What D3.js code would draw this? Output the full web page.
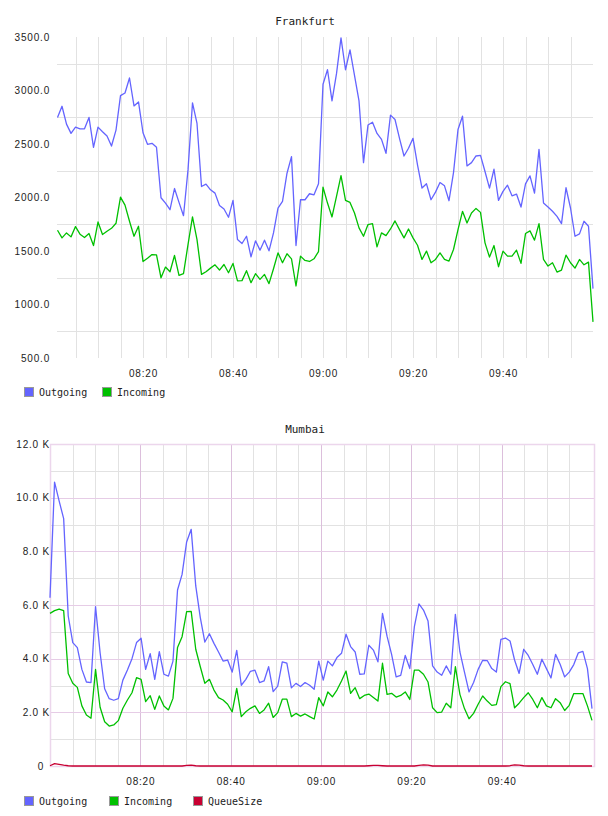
<!DOCTYPE html>
<html>
<head>
<meta charset="utf-8">
<script src="https://cdn.jsdelivr.net/npm/d3@7"></script>
<style>
body { margin: 0; background: #fff; }
</style>
</head>
<body>
<svg id="chart" width="608" height="816"></svg>
<script>
// values, one point per minute
const frankfurtOutgoing = [
    2748, 2853, 2686, 2599, 2658, 2642, 2642, 2748, 2469, 2658,
    2615, 2574, 2481, 2630, 2952, 2977, 3117, 2856, 2893, 2605,
    2497, 2506, 2469, 1998, 1948, 1886, 2084, 1954, 1830, 2258,
    2884, 2692, 2103, 2125, 2072, 2041, 1926, 1892, 1815, 1973,
    1607, 1570, 1638, 1446, 1595, 1508, 1601, 1502, 1669, 1901,
    1963, 2227, 2382, 1551, 1979, 1979, 2035, 2025, 2128, 3058,
    3194, 2903, 3157, 3492, 3194, 3380, 3142, 2903, 2326, 2677,
    2704, 2599, 2543, 2413, 2770, 2729, 2553, 2388, 2460, 2553,
    2305, 2088, 2128, 1979, 2050, 2140, 2109, 1970, 2233, 2636,
    2760, 2295, 2326, 2388, 2394, 2243, 2088, 2264, 1973, 2057,
    2115, 2016, 2032, 1911, 2128, 2202, 2041, 2450, 1948, 1911,
    1871, 1824, 1756, 2091, 1902, 1638, 1660, 1778, 1731, 1148
];
const frankfurtIncoming = [
    1694, 1623, 1669, 1632, 1728, 1657, 1626, 1663, 1551, 1771,
    1654, 1685, 1712, 1759, 2004, 1929, 1778, 1638, 1731, 1402,
    1433, 1467, 1464, 1250, 1350, 1306, 1458, 1272, 1288, 1560,
    1818, 1607, 1281, 1306, 1340, 1371, 1322, 1374, 1297, 1384,
    1220, 1223, 1316, 1204, 1288, 1235, 1281, 1195, 1334, 1483,
    1390, 1474, 1427, 1173, 1452, 1412, 1402, 1427, 1495, 2097,
    1948, 1818, 2010, 2205, 1973, 1954, 1855, 1716, 1638, 1747,
    1756, 1539, 1669, 1644, 1706, 1781, 1700, 1623, 1706, 1623,
    1554, 1421, 1499, 1390, 1421, 1483, 1421, 1406, 1514, 1700,
    1871, 1762, 1855, 1898, 1861, 1576, 1443, 1551, 1353, 1499,
    1452, 1452, 1508, 1384, 1663, 1688, 1601, 1756, 1421, 1359,
    1390, 1303, 1322, 1461, 1390, 1340, 1421, 1371, 1396, 838
];
const mumbaiOutgoing = [
    6270, 10580, 9880, 9220, 5590, 4600, 4410, 3600, 3130, 3110,
    5940, 4220, 2880, 2510, 2450, 2510, 3200, 3580, 4000, 4600,
    4760, 3600, 4190, 3230, 4260, 3420, 3350, 3910, 6560, 7140,
    8350, 8820, 6710, 5530, 4620, 4930, 4570, 4250, 3910, 3950,
    3500, 4310, 3010, 3230, 3530, 3570, 3110, 3170, 3700, 2770,
    2980, 3880, 3830, 2910, 3080, 2960, 3110, 3010, 2860, 3910,
    3200, 3910, 3730, 4040, 4200, 4910, 4450, 4250, 3420, 3430,
    4500, 4320, 3880, 5690, 4840, 4160, 3320, 3380, 4120, 3630,
    5190, 6040, 5810, 5400, 3730, 3500, 3380, 3730, 3420, 5650,
    4250, 3500, 2760, 3110, 3600, 3940, 3930, 3630, 3500, 4720,
    4770, 4660, 3950, 3450, 4350, 4120, 3780, 3420, 3980, 3630,
    3280, 4160, 3790, 3320, 3500, 3780, 4220, 4270, 3630, 2140
];
const mumbaiIncoming = [
    5690, 5790, 5850, 5790, 3450, 3080, 2930, 2240, 1900, 1780,
    3600, 2190, 1650, 1490, 1530, 1690, 2150, 2460, 2730, 3290,
    3230, 2400, 2620, 2110, 2610, 2240, 2090, 2520, 4420, 4820,
    5750, 5760, 4350, 3700, 3080, 3230, 2830, 2550, 2460, 2300,
    2020, 2890, 1840, 2020, 2150, 2240, 1960, 2090, 2340, 1810,
    1990, 2490, 2490, 1840, 1960, 1860, 1940, 1840, 1750, 2550,
    2240, 2760, 2580, 2830, 3170, 3540, 2710, 2920, 2510, 2630,
    2680, 2550, 2420, 3830, 2670, 2710, 2570, 2630, 2760, 2480,
    3570, 3570, 3420, 3130, 2170, 1990, 2010, 2340, 2170, 3700,
    2670, 2140, 1760, 1960, 2300, 2610, 2420, 2260, 2290, 2960,
    3140, 3070, 2170, 2340, 2550, 2730, 2480, 2170, 2550, 2240,
    2170, 2510, 2360, 2070, 2260, 2700, 2700, 2700, 2240, 1700
];
const mumbaiQueue = [
    10, 90, 60, 30, 10, 0, 0, 0, 0, 0,
    0, 0, 0, 0, 0, 0, 0, 0, 0, 0,
    0, 0, 0, 0, 0, 0, 0, 0, 0, 0,
    20, 30, 10, 0, 0, 0, 0, 0, 0, 0,
    0, 0, 0, 0, 0, 0, 0, 0, 0, 0,
    0, 0, 0, 0, 0, 0, 0, 0, 0, 0,
    0, 0, 0, 0, 0, 0, 0, 0, 0, 0,
    10, 20, 20, 10, 0, 0, 0, 0, 0, 0,
    0, 20, 40, 30, 0, 0, 0, 0, 0, 0,
    0, 0, 0, 0, 0, 0, 0, 0, 0, 0,
    0, 10, 40, 30, 10, 0, 0, 0, 0, 0,
    0, 0, 0, 0, 0, 0, 0, 0, 0, 0
];

const frankfurtYTicks = [500, 1000, 1500, 2000, 2500, 3000, 3500];
const frankfurtYGrid = [750, 1250, 1750, 2250, 2750, 3250];
const mumbaiYTicks = [0, 2000, 4000, 6000, 8000, 10000, 12000];
const mumbaiYMajor = [2000, 4000, 6000, 8000, 10000];
const mumbaiYMinor = [1000, 3000, 5000, 7000, 9000, 11000];
const timeTickLabels = ["08:20", "08:40", "09:00", "09:20", "09:40"];

const colors = {
    Outgoing: "#6464ff",
    Incoming: "#00c000",
    QueueSize: "#c80032"
};

const parseTime = d3.timeParse("%H:%M");
const tStart = parseTime("08:00");
const tEnd = parseTime("10:00");
const fmtTime = d3.timeFormat("%H:%M");

// frankfurt samples every minute from 08:01, mumbai spread over 08:00-10:00
const frankfurtTimes = d3.range(frankfurtOutgoing.length)
    .map(i => d3.timeMinute.offset(parseTime("08:01"), i));
const mumbaiTimes = d3.range(mumbaiOutgoing.length)
    .map(i => new Date(+tStart + (tEnd - tStart) * i / (mumbaiOutgoing.length - 1)));

const svg = d3.select("#chart");
const tickFont = "'Liberation Sans', Arial, sans-serif";
const monoFont = "'DejaVu Sans Mono', monospace";

const drawChart = function (cfg) {
    const x = d3.scaleTime().domain([tStart, tEnd]).range(cfg.xRange);
    const y = d3.scaleLinear().domain(cfg.yDomain).range([cfg.bottom, cfg.top]);
    const g = svg.append("g");
    const h = cfg.bottom - cfg.top;
    const w = cfg.right - cfg.left;

    const fiveMin = d3.timeMinute.every(5).range(tStart, tEnd)
        .filter(t => x(t) > cfg.left + 1 && x(t) < cfg.right - 1);
    const minorT = fiveMin.filter(t => !cfg.majorX || t.getMinutes() % 20 !== 0);
    const majorT = cfg.majorX ? fiveMin.filter(t => t.getMinutes() % 20 === 0) : [];

    const gridX = function (vals, color) {
        g.append("g")
            .attr("transform", "translate(0," + cfg.bottom + ")")
            .call(d3.axisBottom(x).tickValues(vals).tickSize(-h).tickFormat(""))
            .call(a => a.select(".domain").remove())
            .selectAll("line").attr("stroke", color).attr("shape-rendering", "crispEdges");
    };
    const gridY = function (vals, color) {
        g.append("g")
            .attr("transform", "translate(" + cfg.left + ",0)")
            .call(d3.axisLeft(y).tickValues(vals).tickSize(-w).tickFormat(""))
            .call(a => a.select(".domain").remove())
            .selectAll("line").attr("stroke", color).attr("shape-rendering", "crispEdges");
    };

    gridX(minorT, "#e2e2e2");
    gridY(cfg.minorY, "#e2e2e2");
    if (cfg.majorX) {
        gridX(majorT, "#dcbfdc");
        gridY(cfg.majorY, "#e6cce6");
        g.append("rect")
            .attr("x", cfg.left + 0.5).attr("y", cfg.top + 0.5)
            .attr("width", w).attr("height", h)
            .attr("fill", "none").attr("stroke", "#ecd6ec").attr("stroke-width", 1.5);
    }

    // tick labels
    const yAxis = g.append("g")
        .attr("transform", "translate(" + cfg.left + ",0)")
        .call(d3.axisLeft(y).tickValues(cfg.yTicks).tickSize(0)
            .tickPadding(cfg.left - 50).tickFormat(cfg.yFormat));
    yAxis.select(".domain").remove();
    yAxis.selectAll("text")
        .attr("dx", d => d === 0 ? -6 : 0)
        .attr("font-family", tickFont).attr("font-size", 10)
        .attr("letter-spacing", 0.8).attr("fill", "#222");

    const xAxis = g.append("g")
        .attr("transform", "translate(0," + cfg.bottom + ")")
        .call(d3.axisBottom(x).tickValues(timeTickLabels.map(parseTime))
            .tickSize(0).tickPadding(cfg.xPad).tickFormat(fmtTime));
    xAxis.select(".domain").remove();
    xAxis.selectAll("text")
        .attr("font-family", tickFont).attr("font-size", 10)
        .attr("letter-spacing", 0.8).attr("fill", "#222");

    // title
    svg.append("text")
        .attr("x", 305).attr("y", cfg.titleY)
        .attr("text-anchor", "middle")
        .attr("font-family", monoFont).attr("font-size", 11)
        .attr("fill", "#222")
        .text(cfg.title);

    // lines
    const line = d3.line()
        .x(d => x(d.t))
        .y(d => y(d.v));
    cfg.series.forEach(function (s) {
        const pts = s.values.map((v, i) => ({t: cfg.times[i], v: v}));
        g.append("path")
            .datum(pts)
            .attr("d", line)
            .attr("fill", "none")
            .attr("stroke", colors[s.name])
            .attr("stroke-width", 1.3)
            .attr("stroke-linejoin", "round");
    });

    // legend
    cfg.series.forEach(function (s, i) {
        const lx = cfg.legendX[i];
        g.append("rect")
            .attr("x", lx + 0.5).attr("y", cfg.legendY + 0.5)
            .attr("width", 9).attr("height", 9)
            .attr("fill", colors[s.name])
            .attr("stroke", "#999").attr("stroke-width", 1);
        g.append("text")
            .attr("x", lx + 15).attr("y", cfg.legendY + 8.5)
            .attr("font-family", monoFont).attr("font-size", 10)
            .attr("fill", "#222")
            .text(s.name);
    });
};

drawChart({
    title: "Frankfurt",
    titleY: 25,
    left: 57, right: 593, top: 37, bottom: 358,
    xRange: [53, 593],
    yDomain: [500, 3500],
    yTicks: frankfurtYTicks,
    yFormat: d => d3.format(".1f")(d),
    minorY: frankfurtYGrid,
    majorX: false,
    xPad: 11.5,
    times: frankfurtTimes,
    series: [
        {name: "Outgoing", values: frankfurtOutgoing},
        {name: "Incoming", values: frankfurtIncoming}
    ],
    legendX: [24, 102],
    legendY: 387
});

drawChart({
    title: "Mumbai",
    titleY: 433,
    left: 50, right: 594, top: 444, bottom: 766,
    xRange: [50, 592],
    yDomain: [0, 12000],
    yTicks: mumbaiYTicks,
    yFormat: d => d === 0 ? "0" : (d / 1000).toFixed(1) + " K",
    minorY: mumbaiYMinor,
    majorY: mumbaiYMajor,
    majorX: true,
    xPad: 12.2,
    times: mumbaiTimes,
    series: [
        {name: "Outgoing", values: mumbaiOutgoing},
        {name: "Incoming", values: mumbaiIncoming},
        {name: "QueueSize", values: mumbaiQueue}
    ],
    legendX: [24, 109, 193],
    legendY: 796
});
</script>
</body>
</html>
